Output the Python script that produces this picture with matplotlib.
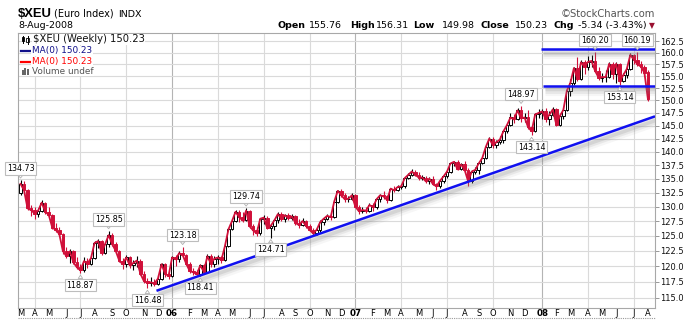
import numpy as np
import pandas as pd
import matplotlib
matplotlib.use("Agg")
import matplotlib.pyplot as plt
import matplotlib.patheffects as pe
from matplotlib.patches import Rectangle
from matplotlib.lines import Line2D
from matplotlib.transforms import IdentityTransform, blended_transform_factory

# ---------------------------------------------------------------- data
# Weekly bars, dated by the Monday that starts each week
week_start = pd.date_range("2005-03-07", "2008-08-04", freq="7D")

open_ = [
    # 2005
    132.40, 134.05, 132.90, 129.70, 129.40, 128.80, 129.30, 130.70, 129.10, 128.60,
    126.40, 126.00, 125.30, 122.50, 121.60, 122.40, 120.60, 119.80, 119.30, 120.80,
    120.40, 121.30, 123.80, 124.10, 122.20, 123.60, 125.10, 123.60, 122.50, 120.90,
    120.30, 121.40, 120.10, 120.50, 120.90, 118.80, 117.60, 117.30, 117.40, 117.20,
    118.00, 120.30, 118.80,
    # 2006
    118.40, 121.40, 121.10, 122.10, 121.80, 120.40, 119.20, 119.00, 118.70, 120.10,
    119.10, 121.60, 120.40, 121.20, 121.40, 121.00, 123.30, 126.10, 127.50, 129.10,
    128.20, 127.60, 129.30, 126.60, 125.90, 125.40, 127.90, 128.10, 126.30, 126.70,
    127.60, 128.70, 127.90, 128.50, 128.00, 128.30, 127.20, 126.80, 127.50, 126.70,
    126.00, 125.40, 126.00, 127.30, 127.90, 128.40, 128.20, 130.90, 132.80, 132.00,
    131.30, 131.40,
    # 2007
    132.00, 130.00, 129.20, 129.40, 129.30, 130.30, 129.90, 131.30, 132.00, 131.80,
    131.20, 133.20, 132.90, 133.50, 133.60, 135.10, 135.70, 136.30, 135.70, 135.20,
    135.20, 134.50, 135.00, 134.00, 133.60, 134.60, 135.40, 136.30, 137.80, 138.10,
    136.70, 137.60, 136.60, 134.50, 136.30, 136.60, 137.80, 138.80, 140.90, 142.50,
    141.20, 141.80, 142.30, 143.90, 145.10, 146.60, 146.20, 148.00, 146.40, 146.60,
    144.70, 143.90, 147.20,
    # 2008
    147.50, 147.80, 146.30, 147.10, 148.20, 145.20, 146.90, 148.10, 152.00, 153.60,
    156.70, 154.30, 157.90, 157.00, 158.00, 158.20, 156.10, 154.70, 154.80, 154.80,
    157.60, 155.50, 157.60, 153.90, 155.20, 156.50, 159.50, 158.50, 157.50, 157.00,
    155.76,
]
high = [
    # 2005
    134.73, 134.50, 133.10, 130.30, 129.90, 129.80, 131.10, 130.90, 129.90, 128.80,
    127.10, 126.50, 125.40, 123.20, 122.80, 122.70, 121.40, 120.40, 121.40, 121.30,
    121.70, 124.20, 124.50, 124.30, 123.90, 125.85, 125.40, 123.90, 122.70, 121.30,
    121.80, 121.60, 121.00, 121.60, 121.10, 119.20, 118.10, 118.20, 118.00, 118.60,
    120.50, 120.50, 119.10,
    # 2006
    121.70, 121.80, 122.40, 123.18, 122.00, 120.70, 119.70, 119.40, 120.40, 120.30,
    121.90, 122.00, 121.70, 121.80, 121.60, 123.60, 126.30, 127.70, 129.40, 129.50,
    129.00, 129.74, 129.40, 127.00, 126.50, 128.10, 128.60, 128.40, 127.00, 127.90,
    129.00, 129.00, 128.80, 128.90, 128.80, 128.50, 127.80, 128.00, 127.70, 127.00,
    126.30, 126.40, 127.60, 128.10, 128.80, 128.60, 131.20, 133.00, 133.10, 132.50,
    131.90, 132.40,
    # 2007
    132.30, 130.30, 130.00, 130.00, 130.60, 130.60, 131.50, 132.20, 132.70, 132.10,
    133.40, 133.70, 133.80, 134.00, 135.20, 136.00, 136.80, 136.50, 136.20, 135.70,
    135.40, 135.30, 135.50, 134.20, 134.80, 135.60, 136.40, 137.90, 138.30, 138.40,
    137.90, 138.20, 136.90, 136.50, 137.10, 138.00, 139.00, 141.10, 142.80, 142.70,
    142.20, 143.00, 144.00, 145.30, 147.50, 147.30, 148.50, 148.97, 147.50, 148.00,
    145.00, 147.40, 148.20,
    # 2008
    148.20, 148.40, 147.90, 148.60, 148.40, 147.30, 148.50, 152.30, 154.30, 156.90,
    159.00, 158.30, 158.40, 159.20, 159.50, 160.20, 157.00, 155.60, 156.20, 158.00,
    157.90, 157.90, 157.80, 155.70, 157.00, 159.80, 159.60, 160.19, 158.10, 157.40,
    156.31,
]
low = [
    # 2005
    132.10, 132.40, 129.40, 128.40, 127.90, 128.20, 129.00, 128.70, 128.20, 126.20,
    125.60, 124.90, 121.90, 121.30, 120.50, 120.30, 119.60, 118.87, 119.10, 119.70,
    120.10, 121.10, 122.90, 121.80, 121.90, 123.20, 123.30, 122.10, 120.60, 119.60,
    119.80, 119.70, 119.40, 119.90, 118.50, 117.30, 116.48, 116.90, 116.80, 117.00,
    117.80, 118.30, 117.90,
    # 2006
    118.20, 120.00, 120.70, 121.60, 120.20, 118.90, 118.60, 118.50, 118.41, 118.80,
    118.90, 119.80, 119.90, 120.40, 120.50, 120.90, 123.20, 125.90, 127.40, 127.40,
    127.30, 127.50, 126.30, 125.20, 125.00, 125.10, 127.00, 126.10, 124.71, 126.00,
    127.20, 127.50, 127.40, 127.70, 127.60, 126.90, 126.40, 126.60, 126.30, 125.80,
    125.00, 125.10, 125.60, 126.90, 127.60, 127.60, 128.00, 130.70, 131.70, 130.90,
    130.80, 131.10,
    # 2007
    129.90, 128.70, 128.90, 128.90, 129.10, 129.30, 129.60, 130.90, 131.40, 130.70,
    131.00, 132.60, 132.70, 133.10, 133.40, 134.90, 135.40, 135.40, 134.80, 134.70,
    134.20, 134.00, 133.80, 132.90, 133.30, 134.20, 135.20, 136.10, 137.40, 136.50,
    136.50, 136.30, 133.70, 134.30, 135.80, 135.90, 137.60, 138.60, 140.60, 140.70,
    140.60, 141.50, 141.70, 143.60, 144.90, 145.60, 146.10, 145.80, 145.70, 144.40,
    143.14, 143.70, 146.50,
    # 2008
    146.20, 145.80, 145.20, 146.80, 144.90, 145.00, 146.30, 147.90, 151.00, 153.20,
    154.00, 154.10, 155.40, 156.30, 157.00, 155.90, 154.10, 153.70, 153.80, 154.60,
    154.50, 153.60, 153.14, 153.70, 154.70, 156.30, 157.50, 157.20, 155.60, 155.10,
    149.98,
]
close = [
    # 2005
    134.05, 132.90, 129.70, 129.40, 128.80, 129.30, 130.70, 129.10, 128.60, 126.40,
    126.00, 125.30, 122.50, 121.60, 122.40, 120.60, 119.80, 119.30, 120.80, 120.40,
    121.30, 123.80, 124.10, 122.20, 123.60, 125.10, 123.60, 122.50, 120.90, 120.30,
    121.40, 120.10, 120.50, 120.90, 118.80, 117.60, 117.30, 117.40, 117.20, 118.00,
    120.30, 118.80, 118.40,
    # 2006
    121.40, 121.10, 122.10, 121.80, 120.40, 119.20, 119.00, 118.70, 120.10, 119.10,
    121.60, 120.40, 121.20, 121.40, 121.00, 123.30, 126.10, 127.50, 129.10, 128.20,
    127.60, 129.30, 126.60, 125.90, 125.40, 127.90, 128.10, 126.30, 126.70, 127.60,
    128.70, 127.90, 128.50, 128.00, 128.30, 127.20, 126.80, 127.50, 126.70, 126.00,
    125.40, 126.00, 127.30, 127.90, 128.40, 128.20, 130.90, 132.80, 132.00, 131.30,
    131.40, 132.00,
    # 2007
    130.00, 129.20, 129.40, 129.30, 130.30, 129.90, 131.30, 132.00, 131.80, 131.20,
    133.20, 132.90, 133.50, 133.60, 135.10, 135.70, 136.30, 135.70, 135.20, 135.20,
    134.50, 135.00, 134.00, 133.60, 134.60, 135.40, 136.30, 137.80, 138.10, 136.70,
    137.60, 136.60, 134.50, 136.30, 136.60, 137.80, 138.80, 140.90, 142.50, 141.20,
    141.80, 142.30, 143.90, 145.10, 146.60, 146.20, 148.00, 146.40, 146.60, 144.70,
    143.90, 147.20, 147.50,
    # 2008
    147.80, 146.30, 147.10, 148.20, 145.20, 146.90, 148.10, 152.00, 153.60, 156.70,
    154.30, 157.90, 157.00, 158.00, 158.20, 156.10, 154.70, 154.80, 154.80, 157.60,
    155.50, 157.60, 153.90, 155.20, 156.50, 159.50, 158.50, 157.50, 157.00, 155.70,
    150.23,
]

# Annotated swing highs / lows
peak_labels = [134.73, 125.85, 123.18, 129.74, 148.97, 160.20, 160.19]
trough_labels = [118.87, 116.48, 118.41, 124.71, 143.14, 153.14]

# Hand-drawn trend / channel lines: (start date, end date), (start value, end value)
trend_dates = ["2005-12-02", "2008-08-18"]
trend_values = [116.07, 146.82]
resist_dates = ["2008-01-05", "2008-08-18"]
resist_values = [160.70, 160.70]
support_dates = ["2008-01-09", "2008-08-18"]
support_values = [153.00, 153.00]

y_ticks = np.arange(115.0, 162.6, 2.5)
view_dates = ["2005-03-02 11:00", "2008-08-18"]

header_pairs = [("Open", "155.76"), ("High", "156.31"), ("Low", "149.98"),
                ("Close", "150.23"), ("Chg", "-5.34 (-3.43%)")]

# ---------------------------------------------------------------- setup
open_, high, low, close = map(np.asarray, (open_, high, low, close))
n = len(week_start)
assert len(open_) == len(high) == len(low) == len(close) == n
x = np.arange(n)


def to_idx(d):
    return (pd.Timestamp(d) - week_start[0]).days / 7.0


W, H = 697, 326
fig = plt.figure(figsize=(W / 100, H / 100), dpi=100)
fig.patch.set_facecolor("white")

L, R, T, B = 18, 655, 33, 308
ax = fig.add_axes([L / W, 1 - B / H, (R - L) / W, (B - T) / H])

RED = "#d0103a"
BLUE = "#1010f0"
GRID = "#dadada"
FRAME = "#a8a8a8"

ax.set_yscale("log")
ax.set_ylim(113.41, 164.27)
ax.set_xlim(to_idx(view_dates[0]), to_idx(view_dates[1]))
ax.minorticks_off()
ax.set_yticks(y_ticks)
ax.set_yticklabels([f"{v:.1f}" for v in y_ticks])
ax.yaxis.tick_right()
ax.tick_params(axis="y", which="major", labelsize=6, length=3, width=0.6,
               color="#888888", pad=1, labelcolor="#111111")
ax.tick_params(axis="x", bottom=False, labelbottom=False)
ax.grid(axis="y", color=GRID, lw=0.8, zorder=0)
ax.set_axisbelow(True)
for s in ax.spines.values():
    s.set_color(FRAME)
    s.set_linewidth(0.8)

# month labels at the first bar of each month; quarterly vertical grid
month_first = {}
for i, d in enumerate(week_start):
    month_first.setdefault((d.year, d.month), i)
lab_tr = blended_transform_factory(ax.transData, IdentityTransform())
for (yr, mo), i in month_first.items():
    if mo in (1, 4, 7, 10):
        ax.axvline(i, color="#b4b4b4" if mo == 1 else GRID, lw=0.8, zorder=0)
    if mo == 1:
        ax.text(i, H - 313.5, f"{yr % 100:02d}", transform=lab_tr, ha="center",
                va="center", fontsize=6.3, fontweight="bold", clip_on=False)
    else:
        ax.text(i, H - 313.5, "JFMAMJJASOND"[mo - 1], transform=lab_tr,
                ha="center", va="center", fontsize=6, clip_on=False)

fig.add_artist(Line2D([L, R], [H - 318, H - 318], transform=IdentityTransform(),
                      color="#9a9a9a", lw=0.8, ls=(0, (1, 1))))

# ---------------------------------------------------------------- candles
bw = 0.72
for i in range(n):
    o, h, l, c = open_[i], high[i], low[i], close[i]
    up = c >= o
    col = "black" if up else RED
    ax.vlines(i, l, h, color=col, lw=0.8, zorder=3)
    lo, hi = min(o, c), max(o, c)
    if hi - lo < 0.08:
        hi = lo + 0.08
    ax.add_patch(Rectangle((i - bw / 2, lo), bw, hi - lo,
                           facecolor="white" if up else RED, edgecolor=col,
                           lw=0.7, zorder=4))

ax.plot(x, close, color=RED, lw=1.3, zorder=5)

# ---------------------------------------------------------------- trend lines
shadow = [pe.SimpleLineShadow(offset=(1.5, -3.0), shadow_color="#808080", alpha=0.07, linewidth=8),
          pe.SimpleLineShadow(offset=(1.5, -2.8), shadow_color="#808080", alpha=0.12, linewidth=5),
          pe.SimpleLineShadow(offset=(1.5, -2.6), shadow_color="#808080", alpha=0.18, linewidth=2.5),
          pe.Normal()]
for dts, vals in ((trend_dates, trend_values), (resist_dates, resist_values),
                  (support_dates, support_values)):
    ax.plot([to_idx(d) for d in dts], vals, color=BLUE, lw=1.8,
            solid_capstyle="butt", zorder=6, path_effects=shadow)

# ---------------------------------------------------------------- value tags
tag_box = dict(boxstyle="square,pad=0.22", fc="white", ec="#bdbdbd", lw=0.8)
tag_arrow = dict(arrowstyle="wedge,tail_width=0.55,shrink_factor=0.5",
                 fc="white", ec="#b0b0b0", lw=0.6, shrinkA=0, shrinkB=1.5)
for v in peak_labels:
    i = int(np.argmin(np.abs(high - v)))
    ax.annotate(f"{v:.2f}", xy=(i, v), xytext=(0, 11.5), textcoords="offset pixels",
                ha="center", va="center", fontsize=5.8, bbox=tag_box,
                arrowprops=tag_arrow, zorder=8)
for v in trough_labels:
    i = int(np.argmin(np.abs(low - v)))
    ax.annotate(f"{v:.2f}", xy=(i, v), xytext=(0, -12), textcoords="offset pixels",
                ha="center", va="center", fontsize=5.8, bbox=tag_box,
                arrowprops=tag_arrow, zorder=8)

# ---------------------------------------------------------------- legend block
def px(xp, yp):
    return xp / W, 1 - yp / H


lbg = dict(fc="white", ec="none", pad=0.4)
fig.text(*px(33, 39.5), "$XEU (Weekly) 150.23", fontsize=7.2, va="center",
         color="#111111", bbox=lbg, zorder=10)
fig.text(*px(32, 51), "MA(0) 150.23", fontsize=6.4, va="center", color="#10108a",
         bbox=lbg, zorder=10)
fig.text(*px(32, 61.7), "MA(0) 150.23", fontsize=6.4, va="center", color="#ff0000",
         bbox=lbg, zorder=10)
fig.text(*px(32, 71), "Volume undef", fontsize=6.4, va="center", color="#555555",
         bbox=lbg, zorder=10)

ident = IdentityTransform()
for y0, colr in ((51, "#10108a"), (61.7, "#ff0000")):
    fig.add_artist(Line2D([21, 30], [H - y0, H - y0], transform=ident, color=colr, lw=1.6))
# little candlestick glyph
for cx, top, bot, b0, b1, fill in ((23, 35.5, 43, 37, 41, "black"), (27.5, 36, 43.5, 38, 42, "white")):
    fig.add_artist(Line2D([cx, cx], [H - top, H - bot], transform=ident, color="black", lw=0.7))
    fig.add_artist(Rectangle((cx - 1.3, H - b1), 2.6, b1 - b0, transform=ident,
                             facecolor=fill, edgecolor="black", lw=0.6))
# little volume glyph
for bx, bh in ((21.5, 5), (24.3, 7), (27.1, 6)):
    fig.add_artist(Rectangle((bx, H - 74.5), 2.0, bh, transform=ident,
                             facecolor="#666666", edgecolor="none"))

# ---------------------------------------------------------------- header
fig.text(*px(18, 17), "$XEU", fontsize=9.4, fontweight="bold",
         family="Liberation Sans", va="baseline")
fig.text(*px(54, 17), "(Euro Index)", fontsize=7, va="baseline")
fig.text(*px(118, 17), "INDX", fontsize=6.8, va="baseline")
fig.text(*px(18, 28), "8-Aug-2008", fontsize=6.8, va="baseline")
fig.text(*px(655, 17), "\u00a9StockCharts.com", fontsize=7.2, va="baseline",
         ha="right", color="#555555")

hx = [(277, 309), (350, 376), (413, 442), (480, 515), (554, 578)]
for (k, v), (xk, xv) in zip(header_pairs, hx):
    fig.text(*px(xk, 28), k, fontsize=6.8, fontweight="bold", va="baseline")
    fig.text(*px(xv, 28), v, fontsize=6.8, va="baseline")
fig.text(*px(655, 28), "\u25bc", fontsize=5.5, va="baseline", ha="right", color="#9a1030")

fig.savefig("out.png", dpi=100, facecolor="white")
